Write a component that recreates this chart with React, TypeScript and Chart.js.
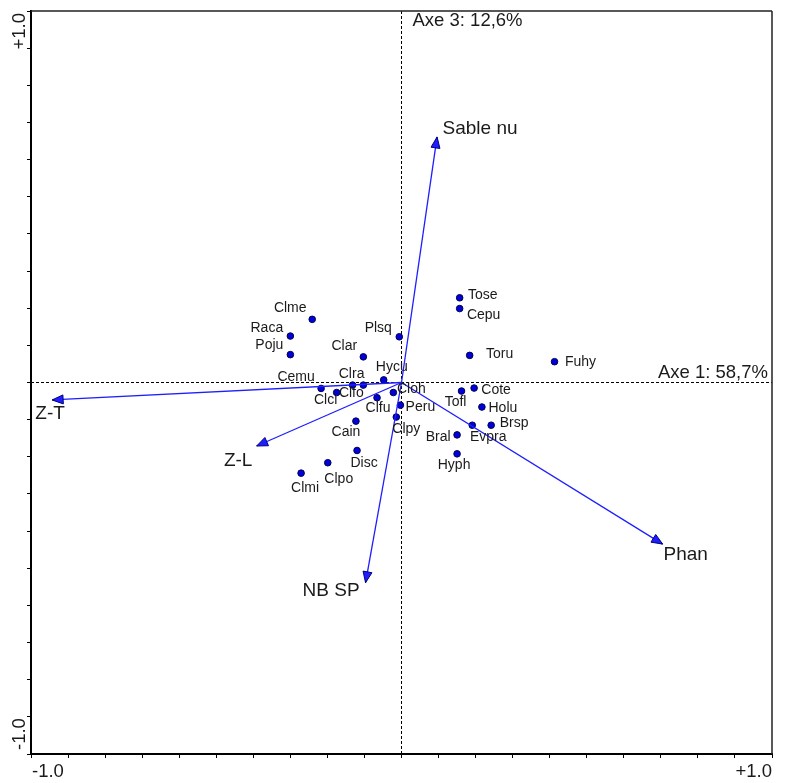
import React, { useEffect, useRef } from "react";
import { Chart, registerables } from "chart.js";

Chart.register(...registerables);

// ---- data ----
const speciesNames = [
  "Clme", "Raca", "Poju", "Plsq", "Clar", "Hycu", "Clra", "Clfo", "Cemu", "Clci",
  "Clfu", "Cloh", "Peru", "Clpy", "Cain", "Disc", "Clpo", "Clmi", "Tose", "Cepu",
  "Toru", "Fuhy", "Cote", "Tofl", "Holu", "Brsp", "Evpra", "Bral", "Hyph",
];
const speciesX = [
  -0.241, -0.3, -0.3, -0.006, -0.103, -0.048, -0.132, -0.103, -0.217, -0.175,
  -0.066, -0.022, -0.003, -0.014, -0.123, -0.12, -0.199, -0.271, 0.157, 0.157,
  0.184, 0.413, 0.196, 0.162, 0.217, 0.242, 0.191, 0.15, 0.15,
];
const speciesY = [
  0.17, 0.125, 0.075, 0.123, 0.069, 0.007, -0.007, -0.007, -0.016, -0.027,
  -0.041, -0.027, -0.061, -0.093, -0.104, -0.183, -0.216, -0.244, 0.228, 0.199,
  0.073, 0.056, -0.015, -0.023, -0.066, -0.115, -0.115, -0.141, -0.192,
];

const envNames = ["Sable nu", "Z-T", "Z-L", "NB SP", "Phan"];
const envX = [0.096, -0.943, -0.391, -0.097, 0.705];
const envY = [0.661, -0.047, -0.171, -0.539, -0.435];

const axisTitles = ["Axe 1: 58,7%", "Axe 3: 12,6%"];
const tickLabels = ["-1.0", "+1.0"];

// ---- label placement (pixels, layout only) ----
const speciesLabelDX = [
  -22, -23.5, -21, -21, -19, 8, -1, -12, -25, -11,
  1, 18, 20, 10, -10, 7, 11, 4, 23, 24,
  30, 26, 22, -6, 21, 23, 16, -19, -3,
];
const speciesLabelDY = [
  -11, -7.5, -9, -9, -10.5, -13, -10.5, 8, -11, 8,
  10, -3, 2, 12, 11.5, 13, 16, 15, -3, 7,
  -1, 0, 2, 11, 1.5, -2, 12, 2, 11,
];
const envLabelDX = [43, -2, -18.5, -34.5, 23];
const envLabelDY = [-8, 14, 14.5, 8.5, 11];

const FONT = '"Liberation Sans", Arial, sans-serif';
const ARROW_COLOR = "#1e1eff";
const POINT_FILL = "#0000dd";
const POINT_EDGE = "#000050";
const TEXT_COLOR = "#1a1a1a";

const decorPlugin = {
  id: "decor",
  beforeDatasetsDraw(chart: any) {
    const { ctx, chartArea, scales } = chart;
    const x0 = scales.x.getPixelForValue(0);
    const y0 = scales.y.getPixelForValue(0);
    ctx.save();
    ctx.strokeStyle = "#000";
    ctx.lineWidth = 1;
    ctx.setLineDash([3, 2]);
    ctx.beginPath();
    ctx.moveTo(x0, chartArea.top);
    ctx.lineTo(x0, chartArea.bottom);
    ctx.moveTo(chartArea.left, y0);
    ctx.lineTo(chartArea.right, y0);
    ctx.stroke();
    ctx.setLineDash([]);
    // top and right frame
    ctx.strokeStyle = "#222";
    ctx.lineWidth = 1.5;
    ctx.beginPath();
    ctx.moveTo(chartArea.left, chartArea.top);
    ctx.lineTo(chartArea.right, chartArea.top);
    ctx.moveTo(chartArea.right, chartArea.top);
    ctx.lineTo(chartArea.right, chartArea.bottom);
    ctx.stroke();
    ctx.restore();
  },
  afterDatasetsDraw(chart: any) {
    const { ctx, chartArea, scales } = chart;
    const xs = scales.x;
    const ys = scales.y;
    const ox = xs.getPixelForValue(0);
    const oy = ys.getPixelForValue(0);
    ctx.save();
    // arrowheads
    for (let i = 0; i < envNames.length; i++) {
      const tx = xs.getPixelForValue(envX[i]);
      const ty = ys.getPixelForValue(envY[i]);
      const a = Math.atan2(ty - oy, tx - ox);
      const len = 11;
      const hw = 4.5;
      const bx = tx - len * Math.cos(a);
      const by = ty - len * Math.sin(a);
      ctx.beginPath();
      ctx.moveTo(tx, ty);
      ctx.lineTo(bx + hw * Math.sin(a), by - hw * Math.cos(a));
      ctx.lineTo(bx - hw * Math.sin(a), by + hw * Math.cos(a));
      ctx.closePath();
      ctx.fillStyle = ARROW_COLOR;
      ctx.fill();
      ctx.strokeStyle = "#00007a";
      ctx.lineWidth = 1;
      ctx.stroke();
      ctx.fillStyle = TEXT_COLOR;
      ctx.font = `19px ${FONT}`;
      ctx.textAlign = "center";
      ctx.textBaseline = "middle";
      ctx.fillText(envNames[i], tx + envLabelDX[i], ty + envLabelDY[i]);
    }
    // species labels
    ctx.font = `14px ${FONT}`;
    ctx.fillStyle = TEXT_COLOR;
    ctx.textAlign = "center";
    ctx.textBaseline = "middle";
    for (let i = 0; i < speciesNames.length; i++) {
      const px = xs.getPixelForValue(speciesX[i]);
      const py = ys.getPixelForValue(speciesY[i]);
      ctx.fillText(speciesNames[i], px + speciesLabelDX[i], py + speciesLabelDY[i]);
    }
    // axis titles
    ctx.font = `18.5px ${FONT}`;
    ctx.textAlign = "right";
    ctx.fillText(axisTitles[0], chartArea.right - 4, oy - 10);
    ctx.textAlign = "left";
    ctx.fillText(axisTitles[1], ox + 11, chartArea.top + 10);
    // tick labels
    ctx.font = `18.5px ${FONT}`;
    ctx.textBaseline = "middle";
    ctx.textAlign = "left";
    ctx.fillText(tickLabels[0], xs.getPixelForValue(-1) + 1, chartArea.bottom + 18);
    ctx.textAlign = "right";
    ctx.fillText(tickLabels[1], xs.getPixelForValue(1), chartArea.bottom + 18);
    const lx = chartArea.left - 11;
    ctx.save();
    ctx.translate(lx, ys.getPixelForValue(1) + 2);
    ctx.rotate(-Math.PI / 2);
    ctx.textAlign = "right";
    ctx.fillText(tickLabels[1], 0, 0);
    ctx.restore();
    ctx.save();
    ctx.translate(lx, ys.getPixelForValue(-1) - 4);
    ctx.rotate(-Math.PI / 2);
    ctx.textAlign = "left";
    ctx.fillText(tickLabels[0], 0, 0);
    ctx.restore();
    ctx.restore();
  },
};

export default function App() {
  const ref = useRef<HTMLCanvasElement | null>(null);
  useEffect(() => {
    if (!ref.current) return;
    const arrowSets = envNames.map((n, i) => ({
      type: "line" as const,
      label: n,
      data: [
        { x: 0, y: 0 },
        { x: envX[i], y: envY[i] },
      ],
      borderColor: ARROW_COLOR,
      borderWidth: 1.3,
      pointRadius: 0,
      showLine: true,
      fill: false,
    }));
    const chart = new Chart(ref.current, {
      type: "scatter",
      data: {
        datasets: [
          ...arrowSets,
          {
            type: "scatter" as const,
            label: "species",
            data: speciesNames.map((_, i) => ({ x: speciesX[i], y: speciesY[i] })),
            pointRadius: 3.3,
            backgroundColor: POINT_FILL,
            borderColor: POINT_EDGE,
            borderWidth: 1,
          },
        ] as any,
      },
      options: {
        animation: false,
        responsive: false,
        layout: { padding: { left: 27, top: 11, right: 15, bottom: 25 } },
        plugins: { legend: { display: false }, tooltip: { enabled: false } },
        scales: {
          x: {
            type: "linear",
            min: -1,
            max: 1,
            ticks: { stepSize: 0.1, display: false },
            grid: { drawOnChartArea: false, drawTicks: true, tickLength: 4, color: "#000" },
            border: { display: true, color: "#000", width: 2 },
            afterFit: (s: any) => {
              s.height = 4;
            },
          },
          y: {
            type: "linear",
            min: -1,
            max: 1,
            ticks: { stepSize: 0.1, display: false },
            grid: { drawOnChartArea: false, drawTicks: true, tickLength: 4, color: "#000" },
            border: { display: true, color: "#000", width: 2 },
            afterFit: (s: any) => {
              s.width = 4;
            },
          },
        },
      } as any,
      plugins: [decorPlugin],
    });
    return () => chart.destroy();
  }, []);
  return (
    <div style={{ position: "absolute", left: 0, top: 0, width: 787, height: 783, background: "#fff" }}>
      <canvas ref={ref} width={787} height={783} style={{ display: "block" }} />
    </div>
  );
}
